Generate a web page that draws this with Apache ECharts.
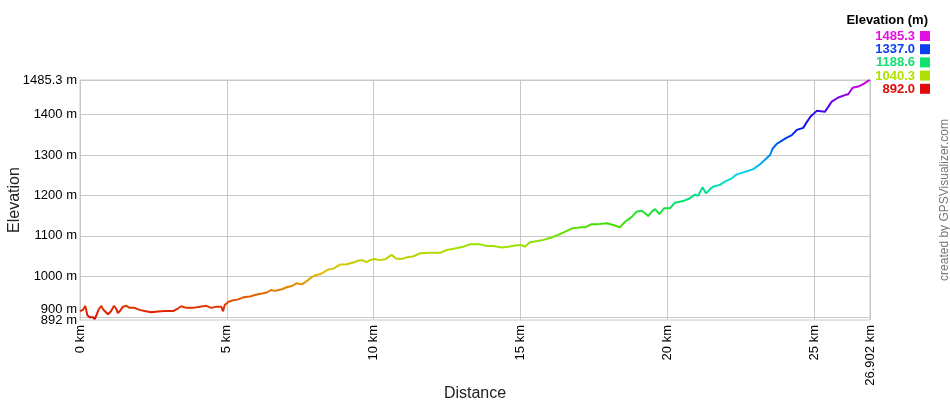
<!DOCTYPE html>
<html>
<head>
<meta charset="utf-8">
<script src="https://cdn.jsdelivr.net/npm/echarts@6/dist/echarts.min.js"></script>
<style>
  html, body { margin: 0; padding: 0; background: #fff; }
  #chart { width: 950px; height: 400px; }
</style>
</head>
<body>
<div id="chart"></div>
<script>
// distance along the track (km) and elevation (m)
const distKm = [
  0.00, 0.10, 0.18, 0.25, 0.33, 0.44, 0.50, 0.56, 0.64, 0.73,
  0.78, 0.86, 0.95, 1.05, 1.16, 1.24, 1.29, 1.39, 1.46, 1.58,
  1.69, 1.86, 2.03, 2.20, 2.43, 2.66, 2.88, 3.17, 3.34, 3.45,
  3.62, 3.85, 4.08, 4.30, 4.47, 4.64, 4.81, 4.87, 4.93, 5.06,
  5.22, 5.39, 5.56, 5.79, 6.02, 6.24, 6.36, 6.50, 6.64, 6.87,
  7.04, 7.21, 7.38, 7.55, 7.72, 7.89, 8.03, 8.17, 8.32, 8.46,
  8.63, 8.85, 9.08, 9.31, 9.48, 9.61, 9.76, 9.88, 10.02, 10.22,
  10.39, 10.61, 10.76, 10.96, 11.14, 11.34, 11.58, 11.92, 12.26, 12.49,
  12.77, 13.05, 13.28, 13.62, 13.86, 14.07, 14.36, 14.58, 14.87, 15.05,
  15.15, 15.32, 15.55, 15.78, 16.06, 16.23, 16.46, 16.74, 17.03, 17.20,
  17.42, 17.65, 17.94, 18.16, 18.39, 18.56, 18.79, 18.96, 19.13, 19.24,
  19.35, 19.47, 19.58, 19.73, 19.89, 20.09, 20.26, 20.54, 20.77, 20.94,
  21.05, 21.20, 21.32, 21.45, 21.57, 21.79, 21.96, 22.19, 22.36, 22.59,
  22.93, 23.16, 23.38, 23.50, 23.59, 23.72, 23.89, 24.07, 24.24, 24.41,
  24.63, 24.72, 24.88, 25.09, 25.37, 25.48, 25.60, 25.82, 26.05, 26.16,
  26.31, 26.50, 26.67, 26.84, 26.902
];
const elevM = [
  914, 917, 927, 904, 899, 899, 894, 904, 919, 927,
  919, 913, 906, 913, 927, 919, 909, 917, 925, 927,
  922, 922, 917, 914, 911, 913, 914, 914, 921, 926,
  922, 922, 925, 927, 922, 925, 925, 914, 929, 937,
  941, 943, 948, 950, 955, 958, 960, 966, 964, 968,
  973, 976, 983, 980, 988, 998, 1003, 1005, 1011, 1017,
  1019, 1029, 1030, 1034, 1039, 1040, 1035, 1040, 1043, 1040,
  1042, 1053, 1044, 1043, 1047, 1049, 1057, 1058, 1058, 1065,
  1069, 1073, 1079, 1079, 1075, 1075, 1071, 1073, 1077, 1077,
  1073, 1084, 1087, 1090, 1096, 1101, 1108, 1118, 1121, 1121,
  1129, 1129, 1131, 1127, 1121, 1135, 1147, 1160, 1162, 1156,
  1149, 1160, 1166, 1154, 1168, 1168, 1182, 1186, 1193, 1202,
  1199, 1220, 1205, 1215, 1222, 1226, 1234, 1242, 1252, 1257,
  1265, 1277, 1292, 1300, 1316, 1327, 1335, 1343, 1349, 1362,
  1367, 1378, 1395, 1409, 1407, 1419, 1432, 1442, 1448, 1450,
  1466, 1469, 1475, 1483, 1485.3
];

const xTicks = [0, 5, 10, 15, 20, 25, 26.902];
const yTicks = [900, 1000, 1100, 1200, 1300, 1400, 1485.3];
const yMinTick = [892];      // own axis, so it can sit right under "900 m"
const yNudgedTick = [900];   // label pushed up above its grid line

// colour scale legend (top right)
const legendValues = ['1485.3', '1337.0', '1188.6', '1040.3', '892.0'];
const legendColors = ['#e010e0', '#0a40f0', '#10e070', '#b0e000', '#e00a0a'];

const rampColors = [
  '#e00000', '#e06000', '#e0c000', '#a8e000', '#40e000', '#00e070',
  '#00e0e0', '#0080f0', '#0010f0', '#6000e8', '#e000e0'
];

const FONT = 'Arial, "Liberation Sans", sans-serif';

const chart = echarts.init(document.getElementById('chart'), null, { renderer: 'canvas' });

const profile = distKm.map((d, i) => [d, elevM[i]]);

const legendGraphics = [{
  type: 'text',
  right: 22,
  top: 14,
  style: { text: 'Elevation (m)', font: 'bold 13px ' + FONT, fill: '#000' }
}];
legendValues.forEach((v, i) => {
  const y = 30 + i * 13.2;
  legendGraphics.push({
    type: 'text',
    right: 35,
    top: y,
    style: { text: v, font: 'bold 13px ' + FONT, fill: legendColors[i] }
  });
  legendGraphics.push({
    type: 'rect',
    left: 920,
    top: y + 1,
    shape: { width: 10, height: 10 },
    style: { fill: legendColors[i] }
  });
});

const yLabelStyle = {
  margin: 3,
  fontSize: 13,
  color: '#000',
  fontFamily: FONT,
  formatter: v => v + ' m'
};

function extraYAxis(values, extraLabel) {
  return {
    type: 'value',
    position: 'left',
    min: 892,
    max: 1485.3,
    axisLine: { show: false },
    axisTick: { show: false, customValues: values },
    axisLabel: Object.assign({ customValues: values }, yLabelStyle, extraLabel || {}),
    splitLine: { show: false }
  };
}

chart.setOption({
  animation: false,
  backgroundColor: '#fff',
  textStyle: { fontFamily: FONT },
  grid: {
    left: 80, right: 80, top: 80, bottom: 80,
    containLabel: false,
    outerBoundsMode: 'none',
    show: true, borderColor: '#c8c8c8', borderWidth: 1
  },
  xAxis: {
    type: 'value',
    min: 0,
    max: 26.902,
    name: 'Distance',
    nameLocation: 'middle',
    nameGap: 66,
    nameMoveOverlap: false,
    nameTextStyle: { fontSize: 16, color: '#222', fontFamily: FONT },
    axisLine: { show: false },
    axisTick: { show: false, customValues: xTicks },
    axisLabel: {
      customValues: xTicks,
      rotate: 90,
      margin: 5,
      fontSize: 13,
      color: '#000',
      fontFamily: FONT,
      hideOverlap: false,
      formatter: v => v + ' km'
    },
    splitLine: { show: true, lineStyle: { color: '#c8c8c8', width: 1 } }
  },
  yAxis: [{
    type: 'value',
    min: 892,
    max: 1485.3,
    name: 'Elevation',
    nameLocation: 'middle',
    nameGap: 57,
    nameMoveOverlap: false,
    nameTextStyle: { fontSize: 16, color: '#222', fontFamily: FONT },
    axisLine: { show: false },
    axisTick: { show: false, customValues: yTicks },
    axisLabel: Object.assign({
      customValues: yTicks,
      formatter: v => (v === 900 ? '' : v + ' m')
    }, { margin: 3, fontSize: 13, color: '#000', fontFamily: FONT }),
    splitLine: { show: true, lineStyle: { color: '#c8c8c8', width: 1 } }
  },
  extraYAxis(yMinTick),
  extraYAxis(yNudgedTick, { verticalAlign: 'bottom', padding: [0, 0, 1, 0] })
  ],
  visualMap: {
    type: 'continuous',
    show: false,
    dimension: 1,
    seriesIndex: 0,
    min: 892,
    max: 1485.3,
    inRange: { color: rampColors }
  },
  series: [{
    type: 'line',
    data: profile,
    showSymbol: false,
    lineStyle: { width: 2 },
    z: 3
  }],
  graphic: legendGraphics.concat([{
    type: 'text',
    x: 945,
    y: 200,
    rotation: Math.PI / 2,
    style: {
      text: 'created by GPSVisualizer.com',
      font: '12px ' + FONT,
      fill: '#777',
      align: 'center',
      verticalAlign: 'middle'
    }
  }])
});
</script>
</body>
</html>
